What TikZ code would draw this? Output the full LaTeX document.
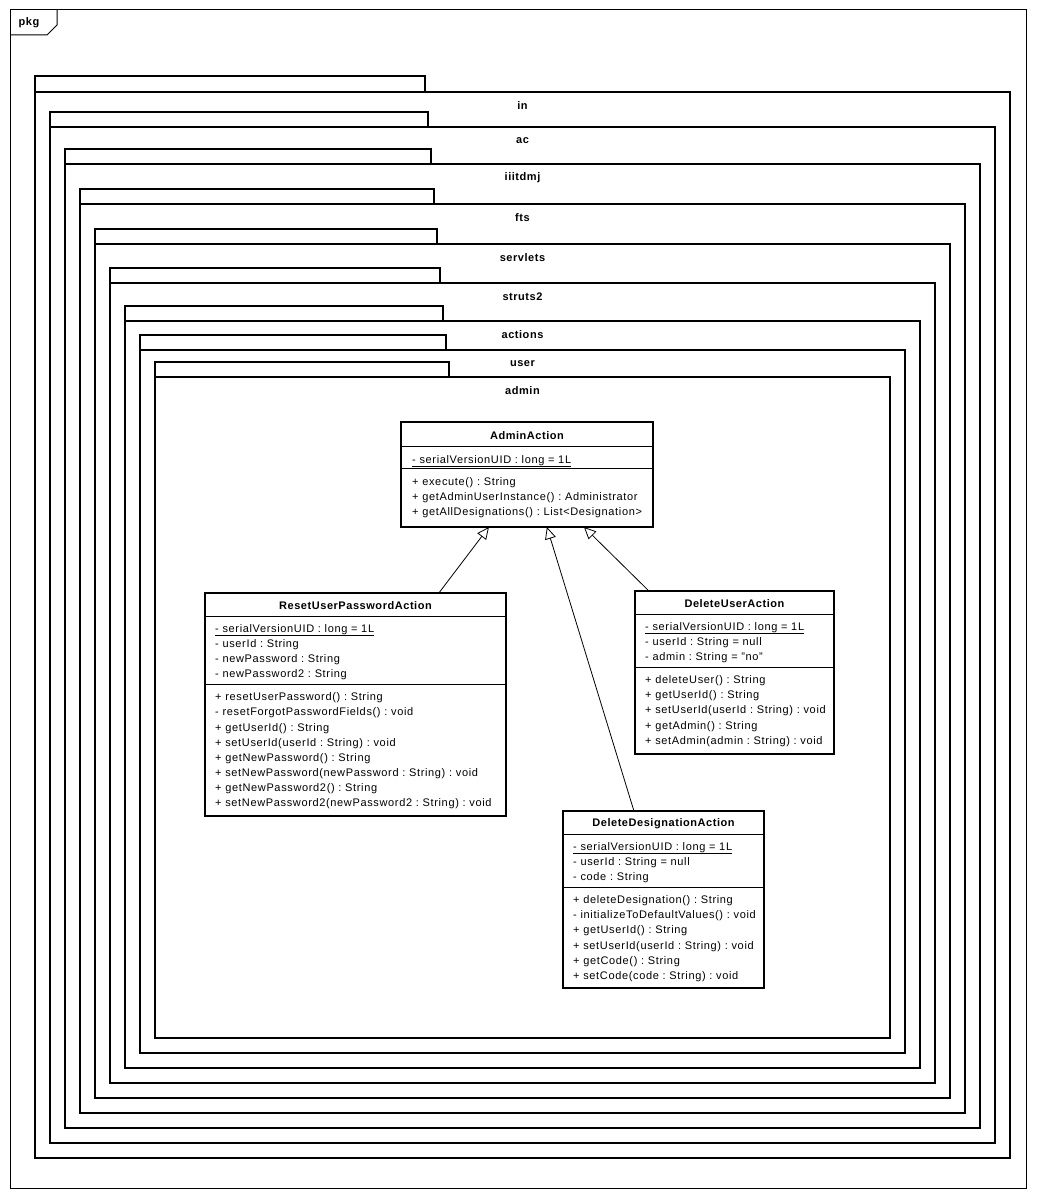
\documentclass[tikz,border=0pt]{standalone}
\usepackage{fontspec}
\setmainfont{Liberation Sans}[LetterSpace=5]
\usetikzlibrary{arrows.meta,calc}

\newcommand{\umlfont}{\fontsize{11}{15}\selectfont\frenchspacing}
\newcommand{\umlrowfont}{\fontsize{11}{15}\selectfont\addfontfeature{LetterSpace=5.9}\frenchspacing}

\tikzset{
  frame/.style={draw=black, line width=1pt},
  pkgline/.style={draw=black, line width=2pt},
  pkglabel/.style={font=\umlfont\bfseries, inner sep=0pt, anchor=center},
  classbox/.style={draw=black, line width=2pt, fill=white, anchor=north west, inner sep=0pt, outer sep=0pt},
  ctitle/.style={font=\umlfont\bfseries, inner sep=0pt, anchor=center},
  row/.style={font=\umlrowfont, inner sep=0pt, anchor=base west},
  sepline/.style={draw=black, line width=1pt},
  gen/.style={draw=black, line width=0.8pt, -{Triangle[open, length=12pt, width=11pt, line width=0.8pt]}}
}

\begin{document}
\begin{tikzpicture}[x=1pt, y=-1pt]
  \useasboundingbox (0,0) rectangle (1036,1199);
  \fill[white] (0,0) rectangle (1036,1199);

  % outer diagram frame with its "pkg" tab
  \draw[frame] (10,10) rectangle (1026,1188);
  \draw[frame] (10,35) -- (47,35) -- (57,25) -- (57,10);
  \node[pkglabel] (pkgtab) at (29,23) {pkg};

  % nested packages in > ac > iiitdmj > fts > servlets > struts2 > actions > user > admin
  \foreach \i/\pname/\tabtop/\bodytop in {0/in/76/92, 1/ac/112/127, 2/iiitdmj/149/164,
      3/fts/189/204, 4/servlets/229/244, 5/struts2/268/283, 6/actions/306/321,
      7/user/335/350, 8/admin/362/377} {
    \pgfmathsetmacro{\lx}{35+15*\i}
    \pgfmathsetmacro{\tx}{425+3*\i}
    \pgfmathsetmacro{\rx}{1010-15*\i}
    \pgfmathsetmacro{\by}{1158-15*\i}
    \draw[pkgline] (\lx,\bodytop) -- (\lx,\tabtop) -- (\tx,\tabtop) -- (\tx,\bodytop);
    \draw[pkgline] (\lx,\bodytop) rectangle (\rx,\by);
    \node[pkglabel] (pkg-\pname) at (522.5,\bodytop+13.5) {\pname};
  }

  % ---------- AdminAction ----------
  \node[classbox, minimum width=252pt, minimum height=105pt] (adminAction) at (401,422) {};
  \node[ctitle] (adminAction-t) at (527,436) {AdminAction};
  \draw[sepline] (401,446) -- (653,446);
  \node[row] (adminAction-a1) at (412,463) {\underline{- serialVersionUID : long = 1L}};
  \draw[sepline] (401,468) -- (653,468);
  \node[row] (adminAction-m1) at (412,485) {+ execute() : String};
  \node[row] (adminAction-m2) at (412,500) {+ getAdminUserInstance() : Administrator};
  \node[row] (adminAction-m3) at (412,515) {+ getAllDesignations() : List<Designation>};

  % ---------- ResetUserPasswordAction ----------
  \node[classbox, minimum width=301pt, minimum height=223pt] (reset) at (205,593) {};
  \node[ctitle] (reset-t) at (355.5,606) {ResetUserPasswordAction};
  \draw[sepline] (205,616) -- (506,616);
  \node[row] (reset-a1) at (215,632) {\underline{- serialVersionUID : long = 1L}};
  \node[row] (reset-a2) at (215,647) {- userId : String};
  \node[row] (reset-a3) at (215,662) {- newPassword : String};
  \node[row] (reset-a4) at (215,677) {- newPassword2 : String};
  \draw[sepline] (205,684) -- (506,684);
  \node[row] (reset-m1) at (215,700) {+ resetUserPassword() : String};
  \node[row] (reset-m2) at (215,715) {- resetForgotPasswordFields() : void};
  \node[row] (reset-m3) at (215,731) {+ getUserId() : String};
  \node[row] (reset-m4) at (215,746) {+ setUserId(userId : String) : void};
  \node[row] (reset-m5) at (215,761) {+ getNewPassword() : String};
  \node[row] (reset-m6) at (215,776) {+ setNewPassword(newPassword : String) : void};
  \node[row] (reset-m7) at (215,791) {+ getNewPassword2() : String};
  \node[row] (reset-m8) at (215,806) {+ setNewPassword2(newPassword2 : String) : void};

  % ---------- DeleteUserAction ----------
  \node[classbox, minimum width=199pt, minimum height=163pt] (delUser) at (635,591) {};
  \node[ctitle] (delUser-t) at (734.5,604) {DeleteUserAction};
  \draw[sepline] (635,614) -- (834,614);
  \node[row] (delUser-a1) at (645,630) {\underline{- serialVersionUID : long = 1L}};
  \node[row] (delUser-a2) at (645,645) {- userId : String = null};
  \node[row] (delUser-a3) at (645,660) {- admin : String = "no"};
  \draw[sepline] (635,667) -- (834,667);
  \node[row] (delUser-m1) at (645,683) {+ deleteUser() : String};
  \node[row] (delUser-m2) at (645,698) {+ getUserId() : String};
  \node[row] (delUser-m3) at (645,713) {+ setUserId(userId : String) : void};
  \node[row] (delUser-m4) at (645,729) {+ getAdmin() : String};
  \node[row] (delUser-m5) at (645,744) {+ setAdmin(admin : String) : void};

  % ---------- DeleteDesignationAction ----------
  \node[classbox, minimum width=201pt, minimum height=177pt] (delDesig) at (563,811) {};
  \node[ctitle] (delDesig-t) at (663.5,824) {DeleteDesignationAction};
  \draw[sepline] (563,834) -- (764,834);
  \node[row] (delDesig-a1) at (573,850) {\underline{- serialVersionUID : long = 1L}};
  \node[row] (delDesig-a2) at (573,865) {- userId : String = null};
  \node[row] (delDesig-a3) at (573,880) {- code : String};
  \draw[sepline] (563,887) -- (764,887);
  \node[row] (delDesig-m1) at (573,903) {+ deleteDesignation() : String};
  \node[row] (delDesig-m2) at (573,918) {- initializeToDefaultValues() : void};
  \node[row] (delDesig-m3) at (573,933) {+ getUserId() : String};
  \node[row] (delDesig-m4) at (573,949) {+ setUserId(userId : String) : void};
  \node[row] (delDesig-m5) at (573,964) {+ getCode() : String};
  \node[row] (delDesig-m6) at (573,979) {+ setCode(code : String) : void};

  % ---------- generalizations ----------
  \draw[gen] ($(reset.north west)!0.777!(reset.north east)$)
          -- ($(adminAction.south west)!0.349!(adminAction.south east)$);
  \draw[gen] ($(delDesig.north west)!0.353!(delDesig.north east)$)
          -- ($(adminAction.south west)!0.579!(adminAction.south east)$);
  \draw[gen] ($(delUser.north west)!0.07!(delUser.north east)$)
          -- ($(adminAction.south west)!0.726!(adminAction.south east)$);
\end{tikzpicture}
\end{document}
